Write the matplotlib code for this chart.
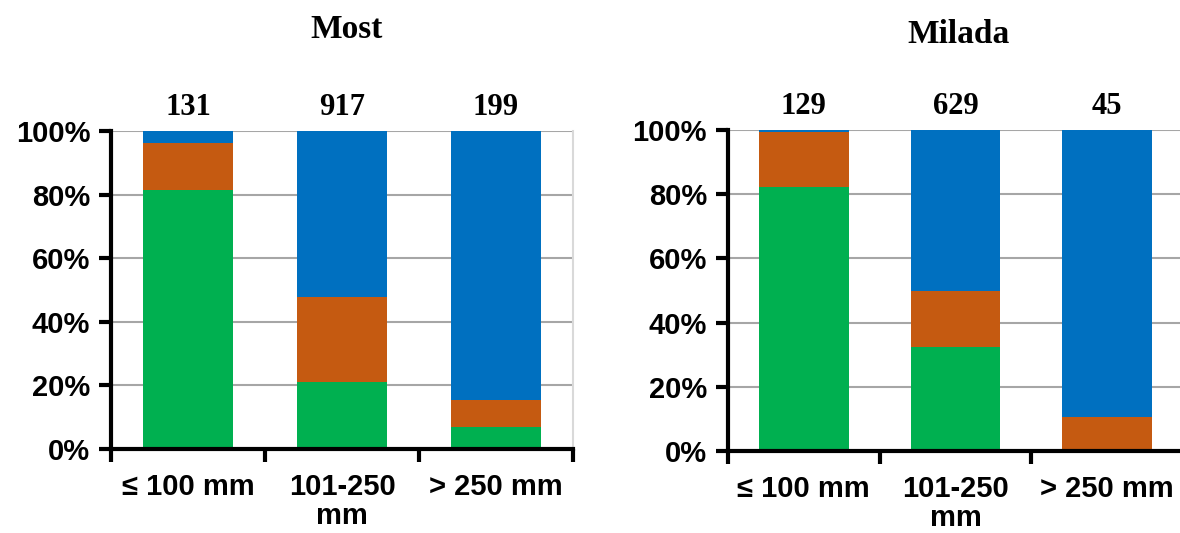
import matplotlib
matplotlib.use("Agg")
from matplotlib import pyplot as plt
from matplotlib.ticker import FixedLocator, PercentFormatter
from matplotlib import transforms

# categories and counts
categories = ["\u2264 100 mm", "101-250\nmm", "> 250 mm"]
most_counts = [131, 917, 199]
milada_counts = [129, 629, 45]

# stacked shares [%], bottom to top
most_green = [81.6, 21.2, 7.0]
most_orange = [14.6, 26.6, 8.5]
most_blue = [3.8, 52.2, 84.5]

milada_green = [82.2, 32.3, 0.0]
milada_orange = [17.1, 17.4, 10.5]
milada_blue = [0.7, 50.3, 89.5]

GREEN = "#00B050"
ORANGE = "#C55A11"
BLUE = "#0070C0"

SANS = ["Liberation Sans", "DejaVu Sans"]
SERIF = ["Liberation Serif", "DejaVu Serif"]


def draw_panel(ax, green, orange, blue, counts):
    x = list(range(len(categories)))
    b2 = [g + o for g, o in zip(green, orange)]
    ax.bar(x, green, width=0.59, color=GREEN, zorder=2)
    ax.bar(x, orange, width=0.59, bottom=green, color=ORANGE, zorder=2)
    ax.bar(x, blue, width=0.59, bottom=b2, color=BLUE, zorder=2)

    ax.set_xlim(-0.5, 2.5)
    ax.set_ylim(0, 100)

    # y axis
    ax.set_yticks([0, 20, 40, 60, 80, 100])
    ax.yaxis.set_major_formatter(PercentFormatter(decimals=0))
    ax.yaxis.grid(True, color="#A6A6A6", linewidth=1.5, zorder=0)
    ax.set_axisbelow(True)

    # x axis: ticks on boundaries, labels at centres
    ax.xaxis.set_major_locator(FixedLocator([-0.5, 0.5, 1.5, 2.5]))
    ax.xaxis.set_minor_locator(FixedLocator(x))
    ax.set_xticklabels([])
    ax.set_xticklabels(categories, minor=True)
    ax.tick_params(axis="x", which="minor", length=0, pad=17)
    ax.tick_params(axis="both", which="major", length=9, width=3, direction="out")

    for lbl in ax.get_yticklabels() + ax.get_xticklabels(minor=True):
        lbl.set_fontfamily(SANS)
        lbl.set_fontweight("bold")
        lbl.set_fontsize(21)
        lbl.set_linespacing(1.08)
    ax.tick_params(axis="y", pad=6)

    for side in ["left", "bottom"]:
        ax.spines[side].set_linewidth(3)
        ax.spines[side].set_zorder(3)
    ax.spines["top"].set_visible(False)
    ax.spines["right"].set_color("#D9D9D9")
    ax.spines["right"].set_linewidth(1.5)

    # counts above bars
    trans = transforms.blended_transform_factory(ax.transData, ax.transAxes)
    for xi, n in zip(x, counts):
        ax.annotate(str(n), xy=(xi, 1.0), xycoords=trans,
                    xytext=(0, 17), textcoords="offset points",
                    ha="center", va="center", fontsize=22,
                    fontweight="bold", family=SERIF)


fig = plt.figure(figsize=(11.8, 5.33), dpi=100)
ax1 = fig.add_axes([0.0941, 0.1576, 0.3915, 0.5966])
ax2 = fig.add_axes([0.6169, 0.1538, 0.3856, 0.6023])

draw_panel(ax1, most_green, most_orange, most_blue, most_counts)
draw_panel(ax2, milada_green, milada_orange, milada_blue, milada_counts)

fig.text(0.294, 0.945, "Most", ha="center", va="center",
         fontsize=24, fontweight="bold", family=SERIF)
fig.text(0.812, 0.936, "Milada", ha="center", va="center",
         fontsize=24, fontweight="bold", family=SERIF)

fig.savefig("out.png", dpi=100)
